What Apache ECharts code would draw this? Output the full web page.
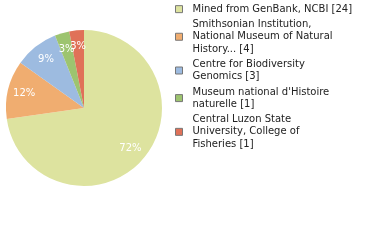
<!DOCTYPE html>
<html><head><meta charset="utf-8">
<script src="https://cdn.jsdelivr.net/npm/echarts@6/dist/echarts.min.js"></script>
<style>html,body{margin:0;padding:0;background:#fff}#c{width:380px;height:240px}</style>
</head><body><div id="c"></div>
<script>
const categories = ["Mined from GenBank, NCBI", "Smithsonian Institution,\nNational Museum of Natural\nHistory...", "Centre for Biodiversity\nGenomics", "Museum national d'Histoire\nnaturelle", "Central Luzon State\nUniversity, College of\nFisheries"];
const counts = [24, 4, 3, 1, 1];
const colors = ["#dde39f", "#f0ad70", "#9dbbe0", "#9dc46f", "#e07158"];

const total = counts.reduce((a, b) => a + b, 0);
const data = categories.map((n, i) => ({ name: n, value: counts[i], itemStyle: { color: colors[i] } }));
const chart = echarts.init(document.getElementById('c'), null, { renderer: 'canvas' });
chart.setOption({
  animation: false,
  legend: {
    orient: 'vertical', left: 175, top: 3, padding: 0,
    itemWidth: 7, itemHeight: 7, itemGap: 3,
    icon: 'rect',
    itemStyle: { borderColor: '#777', borderWidth: 1 },
    formatter: name => name + ' [' + counts[categories.indexOf(name)] + ']',
    textStyle: { fontFamily: 'DejaVu Sans', fontSize: 10, lineHeight: 12.3, color: '#222', padding: [0, 0, 0, 5] },
    data: categories
  },
  series: [{
    type: 'pie', center: [84, 108], radius: 78, startAngle: 90, clockwise: true,
    label: { show: false }, labelLine: { show: false }, emphasis: { disabled: true },
    itemStyle: { borderWidth: 0 },
    data: data
  }, {
    type: 'pie', center: [84, 108], radius: [39, 78], startAngle: 90, clockwise: true,
    silent: true, emphasis: { disabled: true }, legendHoverLink: false,
    avoidLabelOverlap: false, labelLayout: { hideOverlap: false },
    itemStyle: { color: 'rgba(0,0,0,0)', borderWidth: 0 },
    label: {
      show: true, position: 'inside', color: '#fff', fontFamily: 'DejaVu Sans', fontSize: 10,
      formatter: p => Math.floor(p.value / total * 100) + '%'
    },
    labelLine: { show: false },
    data: categories.map((n, i) => ({ name: n + ' ', value: counts[i] }))
  }]
});
</script></body></html>
